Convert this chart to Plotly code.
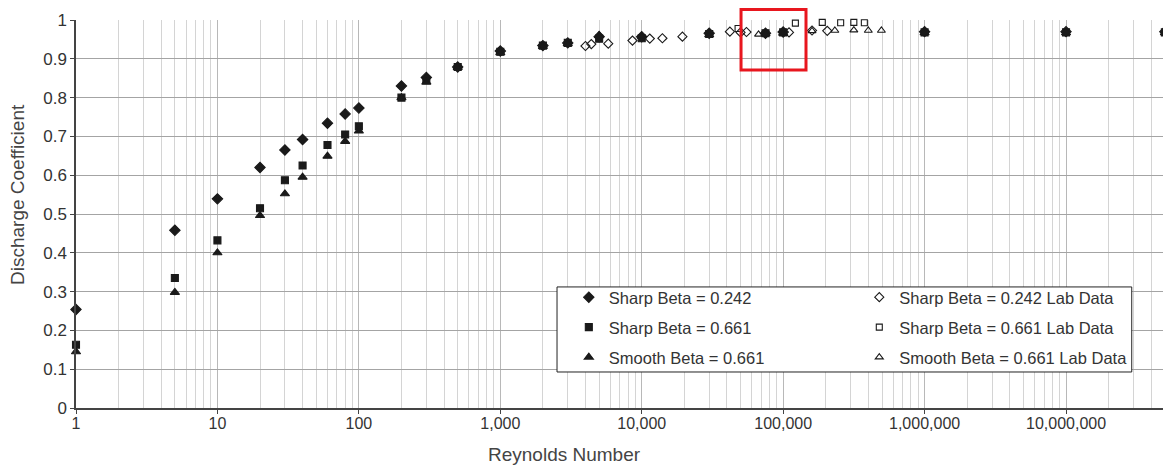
import plotly.graph_objects as go

# ---------------- data ----------------
re_comp = [1, 5, 10, 20, 30, 40, 60, 80, 100, 200, 300, 500, 1000, 2000, 3000,
           5000, 10000, 30000, 75000, 100000, 1000000, 10000000, 50000000]
sharp_242 = [0.254, 0.458, 0.539, 0.620, 0.665, 0.692, 0.734, 0.758, 0.773, 0.830,
             0.852, 0.879, 0.920, 0.934, 0.941, 0.957, 0.957, 0.966, 0.966, 0.969,
             0.970, 0.970, 0.970]
sharp_661 = [0.163, 0.335, 0.432, 0.515, 0.587, 0.625, 0.678, 0.705, 0.726, 0.800,
             0.845, 0.879, 0.918, 0.934, 0.941, 0.952, 0.953, 0.964, 0.966, 0.968,
             0.968, 0.968, 0.968]
smooth_661 = [0.145, 0.298, 0.400, 0.496, 0.552, 0.595, 0.649, 0.687, 0.714, 0.800,
              0.840, 0.878, 0.916, 0.932, 0.939, 0.960, 0.958, 0.962, 0.965, 0.966,
              0.967, 0.967, 0.967]

re_lab_242 = [4000, 4400, 5800, 8600, 11400, 14000, 19400, 42000, 50000, 55000,
              110000, 160000, 205000]
lab_242 = [0.933, 0.938, 0.939, 0.947, 0.952, 0.953, 0.957, 0.970, 0.968, 0.969,
           0.968, 0.973, 0.972]

re_lab_661 = [48000, 122000, 189000, 255000, 316000, 375000]
lab_661 = [0.978, 0.992, 0.994, 0.993, 0.994, 0.993]

re_lab_smooth = [67000, 160000, 232000, 316000, 400000, 495000]
lab_smooth = [0.963, 0.972, 0.973, 0.974, 0.973, 0.973]

x_tickvals = [1, 10, 100, 1000, 10000, 100000, 1000000, 10000000]
x_ticktext = ["1", "10", "100", "1,000", "10,000", "100,000", "1,000,000", "10,000,000"]
y_tickvals = [0, 0.1, 0.2, 0.3, 0.4, 0.5, 0.6, 0.7, 0.8, 0.9, 1.0]
y_ticktext = ["0", "0.1", "0.2", "0.3", "0.4", "0.5", "0.6", "0.7", "0.8", "0.9", "1"]

x_title = "Reynolds Number"
y_title = "Discharge Coefficient"

# ---------------- figure ----------------
FONT = "Liberation Sans, Arial, sans-serif"
BLACK = "#1a1a1a"
TITLE_FONT = dict(family=FONT, size=19, color="#444444")

fig = go.Figure()

def add(name, x, y, symbol, size, legend, group):
    fig.add_trace(go.Scatter(
        x=x, y=y, mode="markers", name=name, cliponaxis=False,
        marker=dict(symbol=symbol, size=size, color=BLACK,
                    line=dict(color=BLACK, width=1.1)),
        legend=legend, legendgroup=group,
    ))

add("Sharp Beta = 0.242", re_comp, sharp_242, "diamond", 8, "legend", "a")
add("Sharp Beta = 0.661", re_comp, sharp_661, "square", 7, "legend", "b")
add("Smooth Beta = 0.661", re_comp, smooth_661, "triangle-up", 8, "legend", "c")
add("Sharp Beta = 0.242 Lab Data", re_lab_242, lab_242, "diamond-open", 7, "legend2", "d")
add("Sharp Beta = 0.661 Lab Data", re_lab_661, lab_661, "square-open", 6, "legend2", "e")
add("Smooth Beta = 0.661 Lab Data", re_lab_smooth, lab_smooth, "triangle-up-open", 7, "legend2", "f")

minor_vals = [m * 10 ** k for k in range(0, 8) for m in range(2, 10)]

fig.update_xaxes(
    type="log", range=[0, 7.721],
    tickvals=x_tickvals, ticktext=x_ticktext,
    showgrid=True, gridcolor="#b8b8b8", gridwidth=1,
    minor=dict(tickvals=minor_vals, showgrid=True, gridcolor="#d4d4d4", gridwidth=1, ticks=""),
    showline=True, linecolor="#444444", linewidth=1.5,
    ticks="outside", ticklen=4, tickcolor="#444444",
    ticklabelstandoff=-4,
    tickfont=dict(family=FONT, size=16, color="#333333"),
    zeroline=False, automargin=False,
)
fig.update_yaxes(
    range=[0, 1],
    tickvals=y_tickvals, ticktext=y_ticktext,
    showgrid=True, gridcolor="#a4a4a4", gridwidth=1,
    showline=True, linecolor="#444444", linewidth=1.5, mirror=True,
    ticks="outside", ticklen=4, tickcolor="#444444",
    tickfont=dict(family=FONT, size=17, color="#333333"),
    zeroline=False, automargin=False,
)

legend_common = dict(
    bgcolor="rgba(0,0,0,0)", borderwidth=0,
    font=dict(family=FONT, size=16.5, color="#333333"),
    traceorder="grouped", tracegroupgap=5.5,
    yanchor="top", xanchor="left", itemclick=False,
)

# page body adds an 8px offset, so the figure is sized to fit the window
fig.update_layout(
    width=1163, height=458,
    margin=dict(l=68, r=3, t=12, b=58, autoexpand=False),
    plot_bgcolor="white", paper_bgcolor="white",
    showlegend=True,
    legend=dict(x=0.4513, y=0.330, **legend_common),
    legend2=dict(x=0.7173, y=0.330, **legend_common),
    annotations=[
        dict(text=x_title, xref="paper", yref="paper", x=0.4478, y=-0.121,
             xanchor="center", yanchor="middle", showarrow=False, font=TITLE_FONT),
        dict(text=y_title, xref="paper", yref="paper", x=-0.0531, y=0.549,
             xanchor="center", yanchor="middle", showarrow=False, textangle=-90,
             font=TITLE_FONT),
    ],
    shapes=[
        # legend frame
        dict(type="rect", xref="paper", yref="paper",
             x0=0.4405, x1=0.9668, y0=0.0928, y1=0.312,
             line=dict(color="#222222", width=1), fillcolor="white", layer="above"),
        # red highlight box
        dict(type="rect", xref="paper", yref="paper",
             x0=0.609, x1=0.6685, y0=0.871, y1=1.027,
             line=dict(color="#e8161e", width=3), fillcolor="rgba(0,0,0,0)", layer="above"),
    ],
)

fig.write_html("out.html")
